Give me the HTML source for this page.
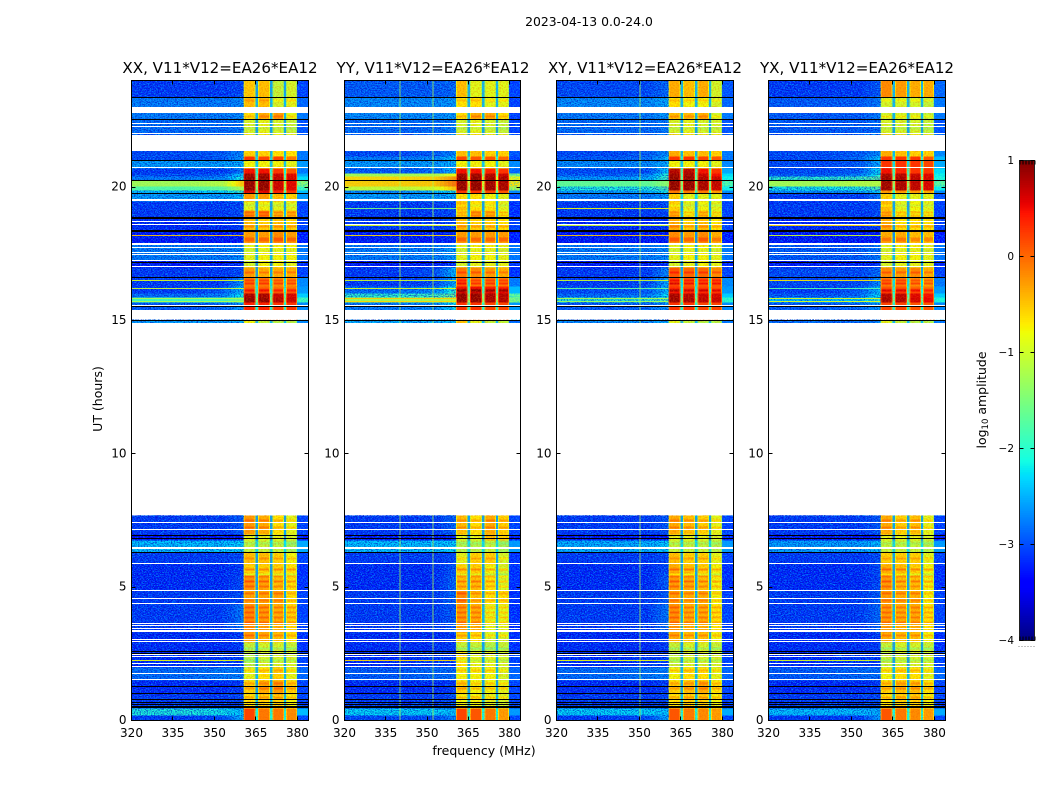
<!DOCTYPE html>
<html lang="en">
<head>
<meta charset="utf-8">
<title>2023-04-13 amplitude waterfall</title>
<style>
html,body{margin:0;padding:0;background:#fff;}
svg{display:block;}
text{font-family:"DejaVu Sans","Liberation Sans",sans-serif;fill:#000;}
</style>
</head>
<body>
<svg id="chart" xmlns="http://www.w3.org/2000/svg" width="1050" height="800" viewBox="0 0 1050 800" shape-rendering="crispEdges">
  <defs>
    <filter id="speck-light" x="0" y="0" width="100%" height="100%" color-interpolation-filters="sRGB">
      <feTurbulence type="fractalNoise" baseFrequency="0.62 0.9" numOctaves="2" seed="7"/>
      <feColorMatrix type="matrix" values="0 0 0 0 0  0 0 0 0 0.72  0 0 0 0 1  6 0 0 0 -2.8"/>
    </filter>
    <filter id="speck-dark" x="0" y="0" width="100%" height="100%" color-interpolation-filters="sRGB">
      <feTurbulence type="fractalNoise" baseFrequency="0.7 0.85" numOctaves="2" seed="23"/>
      <feColorMatrix type="matrix" values="0 0 0 0 0  0 0 0 0 0  0 0 0 0 0.72  0 6 0 0 -2.8"/>
    </filter>
    <filter id="speck-warm" x="0" y="0" width="100%" height="100%" color-interpolation-filters="sRGB">
      <feTurbulence type="fractalNoise" baseFrequency="0.6 0.8" numOctaves="2" seed="41"/>
      <feColorMatrix type="matrix" values="0 0 0 0 0.95  0 0 0 0 0.35  0 0 0 0 0  6 0 0 0 -2.8"/>
    </filter>
  </defs>
  <text x="589" y="26" font-size="12.4" text-anchor="middle">2023-04-13 0.0-24.0</text>
  <text x="220" y="73" font-size="15.1" text-anchor="middle">XX, V11*V12=EA26*EA12</text>
  <text x="433" y="73" font-size="15.1" text-anchor="middle">YY, V11*V12=EA26*EA12</text>
  <text x="645" y="73" font-size="15.1" text-anchor="middle">XY, V11*V12=EA26*EA12</text>
  <text x="857" y="73" font-size="15.1" text-anchor="middle">YX, V11*V12=EA26*EA12</text>
  <text x="484" y="755" font-size="12.5" text-anchor="middle">frequency (MHz)</text>
  <text x="102" y="399" font-size="12.5" text-anchor="middle" transform="rotate(-90 102 399)">UT (hours)</text>
  <text x="986" y="400" font-size="12.5" text-anchor="middle" transform="rotate(-90 986 400)">log<tspan font-size="8.5" dy="2">10</tspan><tspan dy="-2"> amplitude</tspan></text>
  <g id="panels"></g>
  <g id="colorbar"></g>
</svg>
<script>
// Time band boundaries (UT hours, top to bottom)
const bandEdges = [24.00,23.36,22.99,22.54,21.98,21.15,21.00,20.70,20.51,20.40,20.25,20.03,19.88,19.76,19.46,19.13,18.86,18.38,17.89,17.25,16.99,16.61,16.28,16.01,15.86,15.68,15.38,15.00,14.89,7.69,6.98,6.75,6.30,5.85,5.44,4.88,4.35,3.30,2.93,2.59,1.99,1.50,0.98,0.45,0.19,0];
// Frequency anchors (MHz): three low-band values, four bright blocks, tail
const lowAnchors = [320,340,353,360.5];
const blockEdges = [[360.5,364.8],[365.7,370],[370.9,375.1],[375.9,379.9]];
const tailEdges = [379.9,384];
// Flagged (blank) time ranges, hours [top, bottom]
const whiteGaps = [[22.97,22.76],[22.38,22.34],[22.28,22.24],[22.01,21.98],[21.94,21.34],[20.72,20.67],[19.52,19.46],[18.70,18.67],[18.59,18.56],[17.89,17.81],[17.72,17.68],[17.55,17.51],[17.48,17.44],[17.25,17.21],[17.01,16.98],[15.56,15.54],[15.38,15.03],[14.89,7.69],[7.43,7.39],[7.16,7.13],[6.49,6.41],[5.89,5.85],[4.88,4.84],[4.58,4.54],[4.39,4.35],[3.64,3.60],[3.55,3.51],[3.45,3.41],[3.38,3.30],[3.04,3.00],[2.96,2.93],[2.48,2.44],[2.40,2.36],[2.13,2.09],[2.01,1.98],[1.76,1.73],[1.54,1.50]];
// Near-zero integrations drawn black, hours
const blackLines = [23.35,22.53,20.99,20.26,19.75,18.86,18.83,18.38,18.34,17.19,16.60,15.51,15.01,6.95,6.83,6.29,2.57,2.53,1.29,1.00,0.80,0.66,0.60,0.54,0.48];
// Narrow-band streak times (hours) and per-panel log10 amplitude
const streakHours = [19.20,18.56,18.19,17.86,16.50,16.20,15.84,15.73,2.25];
const streakXX = [null,null,-0.5,null,-0.9,-1.0,-1.2,-1.2,-0.8];
const streakYY = [-1.5,-0.9,-0.6,0.1,-1.0,-0.9,-0.5,-0.6,-0.6];
const streakXY = [-0.8,-1.0,-0.5,0.2,-1.0,-1.6,-1.2,-1.3,-0.8];
const streakYX = [null,-0.6,-1.0,0.1,-0.7,-1.7,-0.9,-0.9,-0.9];
// Fine structure inside the bright blocks: time (hours) and change in log10 amplitude
const stripeHours = [23.25,22.65,22.20,19.31,19.05,18.94,18.53,18.08,18.00,17.63,16.80,16.50,16.39,16.24,16.13,7.50,7.24,6.64,6.08,5.66,5.48,5.40,5.21,5.03,4.76,4.50,4.24,4.05,3.86,3.68,3.19,2.70,2.25,1.88,1.39,1.20,0.86];
const stripeDeltas = [0.2,0.25,-0.2,-0.2,0.3,0.3,0.3,0.3,0.3,-0.2,0.3,0.3,0.4,-0.2,0.3,0.3,0.3,-0.2,0.25,0.4,-0.3,0.25,0.4,0.3,0.3,0.25,0.3,0.3,0.3,0.3,0.3,-0.3,-0.25,0.25,0.25,0.3,0.3];
// Persistent RFI channels (MHz)
const rfiXX = [];
const rfiYY = [340,352];
const rfiXY = [350];
const rfiYX = [];
// Band values, log10 amplitude: low1, low2, low3, block1-4, gap, tail
const valuesXX = [
[-3.0,-3.0,-2.9,-.55,-.5,-1.1,-1.0,-2.3,-3.0],
[-2.6,-2.6,-2.5,-.5,-.5,-1.0,-.9,-2.2,-2.8],
[-2.6,-2.6,-2.5,-.7,-.4,-.3,-.9,-2.2,-2.7],
[-2.7,-2.7,-2.6,-1.0,-.9,-1.0,-1.1,-2.3,-2.9],
[-2.9,-2.8,-2.5,-.6,-.6,-.7,-.7,-2.2,-2.7],
[-2.9,-2.8,-2.4,.3,.2,.2,-.1,-2.0,-2.7],
[-2.4,-2.4,-2.3,-.8,-.8,-.8,-.9,-2.1,-2.5],
[-3.0,-3.0,-2.6,.5,.5,.3,.1,-1.9,-2.7],
[-2.9,-2.8,-2.1,.9,.9,.7,.6,-1.7,-2.4],
[-2.6,-2.5,-1.8,.95,.95,.75,.65,-1.5,-2.1],
[-1.1,-1.0,-.3,.95,.95,.7,.6,-1.0,-1.2],
[-1.6,-1.5,-1.0,.95,.95,.7,.6,-1.2,-1.7],
[-2.2,-2.1,-1.7,.6,.6,.4,.3,-1.6,-2.3],
[-2.4,-2.4,-2.2,-.3,-.3,-.5,-.6,-2.0,-2.5],
[-3,-3,-2.9,-.9,-.8,-.9,-.9,-2.3,-3],
[-3,-3,-2.9,-.3,-.2,-.5,-.5,-2.2,-3],
[-3.1,-3.1,-3,-.5,-.6,-.5,-.6,-2.3,-3],
[-3.3,-3.3,-3.2,-.3,-.3,-.2,-.3,-2.4,-3.2],
[-2.6,-2.6,-2.5,-.9,-.8,-.8,-.8,-2.2,-2.7],
[-3.2,-3.2,-3.1,-1,-.8,-.8,-.9,-2.4,-3.1],
[-3,-3,-2.9,-.3,-.4,-.4,-.4,-2.3,-3],
[-3,-3,-2.4,-.1,-.1,-.2,-.2,-2,-2.6],
[-3,-2.8,-2.2,.2,.2,.1,.1,-1.9,-2.5],
[-2.7,-2.6,-1.9,.85,.85,.7,.65,-1.6,-2.2],
[-1.7,-1.7,-1.3,.95,.95,.8,.7,-1.3,-1.7],
[-2.8,-2.7,-2.4,.4,.4,.3,.3,-1.9,-2.6],
null,
[-2.4,-2.4,-2.3,-.8,-1.1,-1.2,-1.2,-2.2,-2.6],
null,
[-3,-3,-2.8,-.3,-.4,-.7,-.9,-2.3,-3],
[-3.3,-3.3,-3.2,-.9,-.9,-.9,-1,-2.4,-3.2],
[-2.2,-2.2,-2.1,-1.1,-1.1,-1.1,-1.3,-2,-2.4],
[-3,-3,-2.9,-.5,-.5,-.6,-.8,-2.3,-3],
[-3.1,-3.1,-3,-.6,-.6,-.6,-.7,-2.3,-3.1],
[-3.1,-3.1,-2.9,-.25,-.35,-.5,-.7,-2.3,-3.1],
[-3,-3,-2.9,-.35,-.35,-.35,-.7,-2.3,-3],
[-3,-3,-2.6,-.2,-.3,-.4,-.6,-2.2,-3],
[-3.1,-3.1,-3,-.3,-.4,-.5,-.7,-2.3,-3.1],
[-3.1,-3.1,-3,-1.1,-1,-1,-1.1,-2.3,-3.1],
[-3.1,-3,-3,-1.2,-1,-1,-1,-2.3,-3],
[-2.7,-2.6,-2.6,-.9,-.7,-.6,-.9,-2.2,-2.8],
[-3.1,-3.1,-3,-.6,-.4,-.3,-.6,-2.3,-3],
[-3,-3,-2.9,-.7,-.6,-.6,-.8,-2.2,-3],
[-1.9,-2,-2.2,.2,-.1,-.1,-.2,-1.9,-2.3],
[-3,-2.9,-2.2,.2,-.1,-.1,-.2,-1.9,-3]];
const valuesYY = [
[-2.8,-2.8,-2.7,-.5,-.9,-.9,-.9,-2.2,-3.0],
[-2.5,-2.5,-2.4,-.7,-.7,-.9,-.9,-2.2,-3.0],
[-2.5,-2.5,-2.4,-.7,-.4,-.4,-.7,-2.2,-3.0],
[-2.7,-2.7,-2.6,-1.0,-.9,-1.0,-1.1,-2.3,-3.0],
[-2.9,-2.8,-2.5,-.5,-.5,-.6,-.6,-2.2,-2.9],
[-2.6,-2.5,-2.1,.2,.1,.1,0,-1.8,-3.0],
[-2.4,-2.4,-2.3,-.8,-.8,-.8,-.9,-2.1,-2.6],
[-2.8,-2.7,-2.2,.5,.5,.4,.3,-1.7,-2.8],
[-1.1,-1.0,-.6,.9,.9,.8,.7,-1.3,-1.2],
[-.45,-.4,-.05,.95,.95,.9,.85,-.8,-.6],
[-.4,-.35,.1,.95,.95,.9,.85,-.8,-.5],
[-.9,-.8,-.3,.95,.95,.9,.85,-1,-1.0],
[-2.5,-2.3,-1.9,.3,.3,.2,.1,-1.6,-2.6],
[-2.4,-2.4,-2.3,-.7,-.7,-.8,-.9,-2.0,-2.9],
[-3,-3,-2.9,-.5,-.7,-.7,-.9,-2.3,-3.1],
[-3,-3,-2.9,-.7,-.4,-.5,-.8,-2.2,-3.1],
[-3.0,-3.0,-2.9,-.5,-.6,-.6,-.7,-2.3,-3],
[-3.2,-3.2,-3.1,-.3,-.3,-.3,-.3,-2.4,-3.2],
[-2.6,-2.6,-2.4,-.9,-.8,-.8,-.9,-2.2,-2.7],
[-3.2,-3.2,-3.1,-1,-.9,-.9,-.9,-2.4,-3.1],
[-3,-2.9,-2.2,-.1,-.2,-.3,-.4,-2.1,-3.1],
[-3,-2.9,-2.3,.1,-.1,-.1,-.1,-2,-2.7],
[-2.7,-2.5,-1.7,.7,.7,.6,.6,-1.7,-2.3],
[-1.8,-1.7,-1.3,.95,.95,.85,.8,-1.2,-1.5],
[-1.1,-1.1,-.9,.95,.95,.85,.8,-1.1,-1.3],
[-2.6,-2.5,-2.0,.3,.3,.2,.2,-1.8,-2.5],
null,
[-2.3,-2.3,-2.2,-.5,-.9,-1.1,-1.1,-2.2,-2.8],
null,
[-3,-3,-2.7,-.5,-.7,-.4,-.6,-2.3,-3],
[-3.3,-3.3,-3.1,-.9,-.9,-.5,-.6,-2.4,-3.2],
[-2.2,-2.2,-2.1,-1.2,-1.2,-1.1,-1.3,-2,-2.5],
[-3,-3,-2.9,-.9,-.6,-.6,-1,-2.3,-3.1],
[-3.1,-3.1,-2.8,-.6,-.6,-.8,-1,-2.3,-3.1],
[-3.1,-3.1,-2.7,-.5,-.5,-.7,-1,-2.3,-3.1],
[-3,-3,-2.7,-.2,-.5,-.7,-.7,-2.3,-3.1],
[-3,-3,-2.8,-.3,-.4,-.9,-.9,-2.2,-3.1],
[-3.1,-3.1,-3,-.6,-.7,-1,-1,-2.3,-3.1],
[-3.1,-3.1,-3,-1.1,-1.1,-1.2,-1.1,-2.3,-3.1],
[-3.1,-3,-3,-.7,-.9,-.9,-1,-2.3,-3],
[-2.8,-2.7,-2.7,-.8,-.8,-.8,-1,-2.2,-2.8],
[-3.1,-3.1,-3,-.6,-.8,-.8,-.9,-2.3,-3],
[-3,-3,-2.9,-.8,-.8,-.9,-1,-2.2,-3],
[-2.1,-2.1,-2.2,.2,.1,-.1,-.3,-1.9,-2.5],
[-2.9,-2.9,-2.5,.2,.1,-.1,-.3,-1.9,-3]];
const valuesXY = [
[-2.9,-2.9,-2.7,-.4,-.5,-.4,-1.0,-2.2,-2.9],
[-2.5,-2.5,-2.3,-.7,-.8,-.8,-1.0,-2.2,-2.8],
[-2.6,-2.6,-2.4,-.5,-.5,-.4,-1.0,-2.2,-2.7],
[-2.7,-2.7,-2.6,-1.0,-.9,-1.0,-1.0,-2.3,-2.9],
[-2.9,-2.8,-2.5,-.4,-.5,-.5,-.6,-2.2,-2.7],
[-2.8,-2.7,-2.2,.3,.3,.2,.1,-1.9,-2.7],
[-2.5,-2.5,-2.3,-.8,-.8,-.8,-.9,-2.1,-2.6],
[-2.9,-2.9,-2.1,.8,.8,.5,.3,-1.6,-2.4],
[-2.8,-2.6,-1.7,.9,.9,.7,.5,-1.5,-2.1],
[-2.4,-2.3,-1.6,.95,.95,.8,.7,-1.4,-2.0],
[-1.5,-1.5,-1.2,.95,.95,.85,.75,-1.2,-1.6],
[-1.9,-1.9,-1.5,.95,.95,.85,.7,-1.3,-2.0],
[-2.4,-2.3,-1.9,-.1,-.1,-.1,-.3,-1.7,-2.6],
[-2.6,-2.6,-2.4,-.6,-.9,-.9,-.9,-2.0,-2.8],
[-3,-3,-2.9,-.6,-.9,-.8,-.9,-2.3,-3],
[-3,-3,-2.9,-.5,-.9,-.6,-.9,-2.2,-3],
[-3.1,-3.1,-3,-.4,-.6,-.5,-.7,-2.3,-3],
[-3.3,-3.3,-3.2,-.2,-.3,-.2,-.4,-2.4,-3.2],
[-2.6,-2.6,-2.5,-.9,-.8,-.8,-.9,-2.2,-2.7],
[-3.2,-3.2,-3.1,-1,-.9,-.8,-.9,-2.4,-3.1],
[-3,-3,-2.5,.1,0,0,-.2,-2.3,-3],
[-3,-2.9,-2.3,.2,.1,.1,.1,-2,-2.6],
[-2.9,-2.8,-2.2,.5,.4,.4,.3,-1.9,-2.5],
[-2.7,-2.6,-2,.85,.8,.7,.65,-1.6,-2.2],
[-1.8,-1.8,-1.5,.9,.85,.75,.7,-1.3,-1.8],
[-2.8,-2.7,-2.4,.3,.3,.2,.2,-1.9,-2.6],
null,
[-2.5,-2.5,-2.3,-.9,-1.1,-1.2,-1.2,-2.2,-2.7],
null,
[-3,-3,-2.8,-.4,-.5,-.6,-.9,-2.3,-3],
[-3.3,-3.3,-3.2,-.9,-.9,-.9,-1,-2.4,-3.2],
[-2.3,-2.3,-2.1,-1.1,-1.1,-1.1,-1.2,-2,-2.5],
[-3,-3,-2.9,-.5,-.6,-.6,-.9,-2.3,-3],
[-3.1,-3.1,-2.9,-.4,-.5,-.6,-.8,-2.3,-3.1],
[-3.1,-3.1,-2.8,-.3,-.4,-.5,-.8,-2.3,-3.1],
[-3,-3,-2.8,-.3,-.4,-.4,-.8,-2.3,-3],
[-3,-3,-2.6,-.25,-.4,-.4,-.7,-2.2,-3],
[-3.1,-3.1,-3,-.4,-.5,-.5,-.8,-2.3,-3.1],
[-3.1,-3.1,-3,-1.1,-1,-1,-1.1,-2.3,-3.1],
[-3.1,-3,-3,-1.1,-1,-1,-1,-2.3,-3],
[-2.7,-2.6,-2.6,-.8,-.7,-.7,-.9,-2.2,-2.8],
[-3.1,-3.1,-3,-.6,-.5,-.4,-.7,-2.3,-3],
[-3,-3,-2.9,-.7,-.6,-.6,-.8,-2.2,-3],
[-2.1,-2.1,-2.2,.1,-.1,-.2,-.3,-1.9,-2.4],
[-3,-2.9,-2.3,.1,-.1,-.2,-.3,-1.9,-3]];
const valuesYX = [
[-3,-3,-2.8,-.2,-.3,-.4,-.4,-2.2,-2.8],
[-2.8,-2.8,-2.6,-1.0,-1.0,-1.0,-1.1,-2.2,-2.7],
[-2.8,-2.8,-2.6,-1,-1,-1,-1.1,-2.2,-2.7],
[-2.8,-2.8,-2.7,-1.0,-1.0,-1.0,-1.1,-2.3,-2.9],
[-2.9,-2.8,-2.5,-.4,-.5,-.6,-.6,-2.2,-2.6],
[-2.9,-2.7,-2.1,.3,.3,.3,.1,-1.8,-2.3],
[-2.9,-2.8,-2.3,.3,.3,.3,.2,-2.0,-2.4],
[-2.9,-2.8,-2.0,.5,.4,.3,.3,-1.7,-2.1],
[-2.8,-2.6,-1.8,.85,.8,.7,.6,-1.6,-2.0],
[-1.8,-1.7,-1.4,.9,.85,.75,.65,-1.2,-1.9],
[-1.1,-1.0,-1.0,.9,.85,.75,.65,-1.1,-1.5],
[-2.0,-1.9,-1.5,.9,.85,.75,.65,-1.3,-2.0],
[-2.5,-2.4,-2.1,-.3,-.3,-.3,-.4,-1.8,-2.6],
[-3,-3,-2.6,-.6,-.9,-.9,-.9,-2.0,-2.9],
[-3,-3,-2.9,-.5,-.9,-.8,-.9,-2.3,-3],
[-3,-3,-2.9,-.5,-.8,-.8,-.9,-2.2,-3],
[-3.1,-3.1,-3,-.4,-.7,-.7,-.7,-2.3,-3],
[-3.3,-3.3,-3.2,-.4,-.4,-.5,-.5,-2.4,-3.2],
[-2.8,-2.8,-2.6,-.9,-.8,-.8,-.9,-2.2,-2.7],
[-3.2,-3.2,-3.1,-1,-.9,-.9,-.9,-2.4,-3.1],
[-2.9,-2.9,-2.7,-.2,-.3,-.2,-.4,-2.3,-3],
[-2.9,-2.9,-2.5,-.1,-.1,-.2,-.3,-2,-2.7],
[-3,-2.8,-2.2,.3,.3,.2,.1,-1.9,-2.5],
[-2.8,-2.7,-2.0,.8,.75,.6,.5,-1.6,-2.2],
[-2.2,-2.1,-1.7,.85,.8,.65,.55,-1.4,-1.9],
[-2.8,-2.7,-2.4,.2,.2,.1,.1,-1.9,-2.6],
null,
[-2.7,-2.7,-2.5,-.9,-1.1,-1.2,-1.2,-2.2,-2.7],
null,
[-3,-3,-2.8,-.4,-.6,-.5,-.9,-2.3,-3],
[-3.3,-3.3,-3.2,-.9,-.9,-.9,-1,-2.4,-3.2],
[-2.4,-2.4,-2.2,-1.1,-1.1,-1.1,-1.2,-2,-2.5],
[-3,-3,-2.9,-.6,-.6,-.6,-.9,-2.3,-3],
[-3.1,-3.1,-2.9,-.4,-.5,-.6,-.8,-2.3,-3.1],
[-3.1,-3.1,-2.9,-.3,-.5,-.5,-.8,-2.3,-3.1],
[-3,-3,-2.8,-.3,-.4,-.4,-.8,-2.3,-3],
[-3,-3,-2.7,-.3,-.4,-.4,-.7,-2.2,-3],
[-3.1,-3.1,-3,-.4,-.5,-.5,-.8,-2.3,-3.1],
[-3.1,-3.1,-3,-1.1,-1,-1,-1.1,-2.3,-3.1],
[-3.1,-3,-3,-1.1,-1,-1,-1,-2.3,-3],
[-2.8,-2.7,-2.7,-.8,-.7,-.7,-.9,-2.2,-2.8],
[-3.1,-3.1,-3,-.6,-.5,-.5,-.7,-2.3,-3],
[-3,-3,-2.9,-.7,-.6,-.6,-.8,-2.2,-3],
[-2.2,-2.2,-2.3,.1,-.1,-.2,-.3,-1.9,-2.4],
[-3,-3,-2.4,.1,-.1,-.2,-.3,-1.9,-3]];
// Axis ticks and labels
const hourTicks = [0,5,10,15,20];
const hourTickLabels = ['0','5','10','15','20'];
const freqTicks = [320,335,350,365,380];
const freqTickLabels = ['320','335','350','365','380'];
const colorTicks = [1,0,-1,-2,-3,-4];
const colorTickLabels = ['1','0','\u22121','\u22122','\u22123','\u22124'];

const NS = 'http://www.w3.org/2000/svg';
const panelSeries = [
  {values: valuesXX, streaks: streakXX, rfi: rfiXX, left: 131.5, width: 177},
  {values: valuesYY, streaks: streakYY, rfi: rfiYY, left: 344.5, width: 176},
  {values: valuesXY, streaks: streakXY, rfi: rfiXY, left: 556.5, width: 177},
  {values: valuesYX, streaks: streakYX, rfi: rfiYX, left: 768.5, width: 177}
];
const plotBottom = 720.5, pxPerHour = 640 / 24, freqMin = 320, freqSpan = 64;
const noiseLift = 0.15, rampCells = 14, brightLowLimit = -1.75, blockInset = 1;

function clamp01(v){return Math.max(0, Math.min(1, v));}
function ramp(t, pts){
  for (let i = 1; i < pts.length; i++) {
    if (t <= pts[i][0]) {
      const a = pts[i-1], b = pts[i];
      return a[1] + (b[1]-a[1]) * (t-a[0]) / (b[0]-a[0]);
    }
  }
  return pts[pts.length-1][1];
}
function jet(v){
  const t = clamp01((v + 4) / 5);
  const r = ramp(t, [[0,0],[.35,0],[.66,1],[.89,1],[1,.5]]);
  const g = ramp(t, [[0,0],[.125,0],[.375,1],[.64,1],[.91,0],[1,0]]);
  const b = ramp(t, [[0,.5],[.11,1],[.34,1],[.65,0],[1,0]]);
  return 'rgb(' + Math.round(r*255) + ',' + Math.round(g*255) + ',' + Math.round(b*255) + ')';
}
function makeRect(parent, x, y, w, h, fill){
  const el = document.createElementNS(NS, 'rect');
  el.setAttribute('x', x);
  el.setAttribute('y', y);
  el.setAttribute('width', w);
  el.setAttribute('height', h);
  el.setAttribute('fill', fill);
  parent.appendChild(el);
  return el;
}
function makeText(parent, x, y, size, anchor, content){
  const el = document.createElementNS(NS, 'text');
  el.setAttribute('x', x);
  el.setAttribute('y', y);
  el.setAttribute('font-size', size);
  el.setAttribute('text-anchor', anchor);
  el.textContent = content;
  parent.appendChild(el);
  return el;
}
function yOfHour(h){return plotBottom - h * pxPerHour;}
function lowValueAt(row, f){
  return ramp(f, [[lowAnchors[0],row[0]],[lowAnchors[1],row[0]],[lowAnchors[2],row[1]],[lowAnchors[3],row[2]]]);
}

function drawPanel(series, host){
  const g = document.createElementNS(NS, 'g');
  
  
  host.appendChild(g);
  const xOf = f => series.left + (f - freqMin) * series.width / freqSpan;
  function drawLowCells(row, r, opacity){
    const top = yOfHour(bandEdges[r]), hgt = yOfHour(bandEdges[r+1]) - top;
    const flat = makeRect(g, xOf(lowAnchors[0]), top, xOf(lowAnchors[1]) - xOf(lowAnchors[0]), hgt, jet(row[0] - noiseLift));
    flat.setAttribute('opacity', opacity);
    
    
    const stepMHz = (lowAnchors[3] - lowAnchors[1]) / rampCells;
    for (let i = 0; i < rampCells; i++) {
      const f0 = lowAnchors[1] + i * stepMHz;
      const cell = makeRect(g, xOf(f0), top, xOf(f0 + stepMHz) - xOf(f0) + 0.4, hgt, jet(lowValueAt(row, f0 + stepMHz / 2) - noiseLift));
      cell.setAttribute('opacity', opacity);
      
      
    }
  }
  // band cells
  series.values.forEach((row, r) => {
    if (!row) return;
    const top = yOfHour(bandEdges[r]), hgt = yOfHour(bandEdges[r+1]) - top;
    drawLowCells(row, r, 1);
    const gapCell = makeRect(g, xOf(blockEdges[0][0]), top, xOf(tailEdges[0]) - xOf(blockEdges[0][0]), hgt, jet(row[7] - 0.25));
    
    
    const tail = makeRect(g, xOf(tailEdges[0]), top, xOf(tailEdges[1]) - xOf(tailEdges[0]), hgt, jet(row[8] - noiseLift));
    
    
    for (let i = 0; i < 4; i++) {
      const v = row[3+i], e = blockEdges[i];
      const rim = makeRect(g, xOf(e[0]), top, xOf(e[1]) - xOf(e[0]), hgt, jet(v > 0 ? v - 0.5 : v - 0.35));
      
      
      const core = makeRect(g, xOf(e[0]) + blockInset, top, xOf(e[1]) - xOf(e[0]) - 2 * blockInset, hgt, jet(v));
      
      
    }
  });
  // fine structure inside the blocks
  stripeHours.forEach((h, s) => {
    let r = 0;
    while (r < bandEdges.length - 2 && bandEdges[r+1] > h) r++;
    const row = series.values[r];
    if (!row) return;
    for (let i = 0; i < 4; i++) {
      const e = blockEdges[i];
      const stripe = makeRect(g, xOf(e[0]) + blockInset, yOfHour(h) - 1, xOf(e[1]) - xOf(e[0]) - 2 * blockInset, 2, jet(row[3+i] + stripeDeltas[s]));
      
      
    }
  });
  // receiver noise texture (cosmetic only)
  const lowWidth = xOf(blockEdges[0][0]) - series.left;
  const light = makeRect(g, series.left, 80.5, lowWidth, 640, '#000');
  light.setAttribute('filter', 'url(#speck-light)');
  light.setAttribute('opacity', '0.6');
  
  
  const dark = makeRect(g, series.left, 80.5, lowWidth, 640, '#000');
  dark.setAttribute('filter', 'url(#speck-dark)');
  dark.setAttribute('opacity', '0.55');
  
  
  const tailNoise = makeRect(g, xOf(tailEdges[0]), 80.5, xOf(tailEdges[1]) - xOf(tailEdges[0]), 640, '#000');
  tailNoise.setAttribute('filter', 'url(#speck-light)');
  tailNoise.setAttribute('opacity', '0.5');
  
  
  const warm = makeRect(g, xOf(blockEdges[0][0]), 80.5, xOf(tailEdges[0]) - xOf(blockEdges[0][0]), 640, '#000');
  warm.setAttribute('filter', 'url(#speck-warm)');
  warm.setAttribute('opacity', '0.3');
  
  
  // bright low-band rows keep a smooth look above the speckle
  series.values.forEach((row, r) => {
    if (row && row[0] > brightLowLimit) drawLowCells(row, r, 0.88);
  });
  // RFI channels
  series.rfi.forEach(f => {
    const line = makeRect(g, xOf(f), 80.5, 1, 640, jet(-1.2));
    line.setAttribute('opacity', '0.75');
    
    
  });
  // streaks
  series.streaks.forEach((v, i) => {
    if (v === null) return;
    const line = makeRect(g, series.left, Math.round(yOfHour(streakHours[i]) - 0.5), xOf(lowAnchors[3]) - series.left, 1, jet(v));
    line.setAttribute('opacity', '0.9');
    
    
  });
  // flagged gaps
  whiteGaps.forEach(gap => {
    const top = Math.round(yOfHour(gap[0]) - 0.5);
    const band = makeRect(g, series.left, top, series.width, Math.max(1, Math.round(yOfHour(gap[1]) - yOfHour(gap[0]))), '#fff');
    
    
  });
  blackLines.forEach(h => {
    const line = makeRect(g, series.left, Math.round(yOfHour(h) - 0.5), series.width, 1, '#000');
    
    
  });
  // frame
  const frame = makeRect(g, series.left, 80.5, series.width, 640, 'none');
  frame.setAttribute('stroke', '#000');
  frame.setAttribute('stroke-width', '1');
  
  
  // hour ticks
  hourTicks.forEach((h, i) => {
    const y = Math.round(yOfHour(h) - 0.5);
    const tl = makeRect(g, series.left, y, 4, 1, '#000');
    
    
    const tr = makeRect(g, series.left + series.width - 4, y, 4, 1, '#000');
    
    
    const lab = makeText(g, series.left - 5, yOfHour(h) + 3.5, 12, 'end', hourTickLabels[i]);
    
    
  });
  // frequency ticks
  freqTicks.forEach((f, i) => {
    const x = Math.round(xOf(f) - 0.5);
    const tb = makeRect(g, x, 716.5, 1, 4, '#000');
    
    
    const tt = makeRect(g, x, 80.5, 1, 4, '#000');
    
    
    const lab = makeText(g, xOf(f), 737, 12, 'middle', freqTickLabels[i]);
    
    
  });
}

function drawColorbar(host){
  const left = 1019.5, width = 15, top = 160.5, height = 480;
  const yOf = v => top + (1 - v) * height / 5;
  for (let i = 0; i < 256; i++) {
    const v = 1 - 5 * (i + 0.5) / 256;
    const strip = makeRect(host, left, top + i * height / 256, width, height / 256 + 0.5, jet(v));
    
    
  }
  const frame = makeRect(host, left, top, width, height, 'none');
  frame.setAttribute('stroke', '#222');
  frame.setAttribute('stroke-width', '1');
  
  
  colorTicks.forEach((v, i) => {
    const y = Math.round(yOf(v) - 0.5);
    const a = makeRect(host, left, y, 4, 1, '#000');
    
    
    const b = makeRect(host, left + width - 4, y, 4, 1, '#000');
    
    
    const lab = makeText(host, 1014, yOf(v) + 3.5, 10.5, 'end', colorTickLabels[i]);
    
    
  });
  for (let i = 0; i < 6; i++) {
    const x = left + i * 3;
    const up = makeRect(host, x, top, 1, 4, '#000');
    
    
    const low = makeRect(host, x, top + height - 4, 1, 4, '#000');
    
    
    const dot = makeRect(host, x - 1, 646, 1, 1, '#888');
    
    
  }
}

const panelsHost = document.getElementById('panels');
panelSeries.forEach(s => drawPanel(s, panelsHost));
drawColorbar(document.getElementById('colorbar'));
</script>
</body>
</html>
